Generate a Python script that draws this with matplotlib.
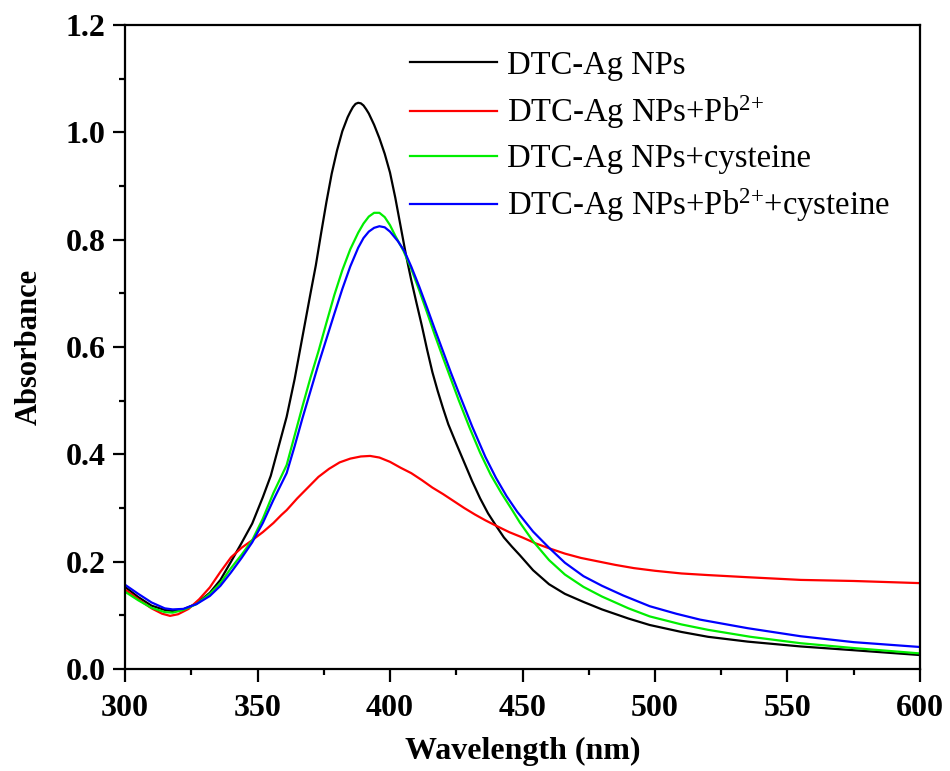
import matplotlib
matplotlib.use("Agg")
import matplotlib.pyplot as plt
from matplotlib.ticker import MultipleLocator

plt.rcParams['font.family'] = ['Liberation Serif', 'DejaVu Serif']
plt.rcParams['mathtext.fontset'] = 'custom'
plt.rcParams['mathtext.rm'] = 'Liberation Serif'
plt.rcParams['mathtext.it'] = 'Liberation Serif:italic'
plt.rcParams['mathtext.bf'] = 'Liberation Serif:bold'

# DTC-Ag NPs (black)
x_black = [300, 305, 310, 315, 318, 322, 327, 332, 336, 340, 344, 348, 352, 355, 358, 361, 364, 367, 370,
           372, 374, 376, 378, 380, 382, 384, 385, 386, 387, 388, 389, 390, 391, 392, 394, 396, 398, 400,
           402, 404, 406, 408, 410, 412, 414, 416, 418, 420, 422, 425, 428, 431, 434, 437, 440, 443, 446,
           449, 454, 460, 466, 473, 480, 490, 498, 510, 520, 535, 555, 575, 600]
y_black = [0.153, 0.134, 0.118, 0.110, 0.108, 0.111, 0.122, 0.142, 0.166, 0.200, 0.235, 0.271, 0.320,
           0.360, 0.415, 0.470, 0.540, 0.620, 0.700, 0.752, 0.812, 0.870, 0.923, 0.966, 1.002, 1.028,
           1.038, 1.047, 1.053, 1.055, 1.054, 1.050, 1.043, 1.035, 1.014, 0.989, 0.960, 0.925, 0.878,
           0.825, 0.772, 0.725, 0.682, 0.640, 0.595, 0.553, 0.518, 0.486, 0.456, 0.420, 0.385, 0.350,
           0.318, 0.290, 0.267, 0.245, 0.228, 0.212, 0.184, 0.158, 0.140, 0.125, 0.111, 0.094, 0.082,
           0.069, 0.060, 0.051, 0.042, 0.035, 0.026]

# DTC-Ag NPs + Pb2+ (red)
x_red = [300, 305, 310, 314, 317, 320, 324, 328, 332, 336, 340, 344, 348, 352, 356, 359, 361, 365, 369,
         373, 377, 381, 385, 389, 392.5, 396, 400, 404, 408, 412, 416, 420, 424, 428, 432, 436, 440, 445,
         450, 455, 460, 466, 472, 478, 485, 492, 500, 510, 520, 535, 555, 575, 600]
y_red = [0.148, 0.130, 0.113, 0.103, 0.099, 0.102, 0.112, 0.130, 0.152, 0.181, 0.208, 0.226, 0.240,
         0.255, 0.272, 0.287, 0.296, 0.318, 0.338, 0.358, 0.373, 0.385, 0.392, 0.396, 0.397, 0.394,
         0.386, 0.375, 0.365, 0.352, 0.338, 0.326, 0.313, 0.300, 0.288, 0.277, 0.267, 0.255, 0.245,
         0.234, 0.225, 0.215, 0.207, 0.201, 0.194, 0.188, 0.183, 0.178, 0.175, 0.171, 0.166, 0.164, 0.160]

# DTC-Ag NPs + cysteine (green)
x_green = [300, 305, 310, 315, 318, 322, 327, 332, 336, 340, 344, 348, 352, 356, 361, 364, 367, 370, 373,
           376, 379, 382, 385, 388, 390, 392, 394, 396, 398, 400, 402, 405, 408, 411, 414, 417, 420, 423,
           426, 430, 434, 438, 442, 446, 449, 454, 460, 466, 473, 480, 490, 498, 510, 520, 536, 555, 575, 600]
y_green = [0.144, 0.128, 0.114, 0.106, 0.105, 0.110, 0.121, 0.140, 0.160, 0.188, 0.213, 0.240, 0.280,
           0.328, 0.380, 0.435, 0.490, 0.543, 0.592, 0.645, 0.697, 0.743, 0.782, 0.813, 0.830, 0.843,
           0.850, 0.850, 0.842, 0.827, 0.807, 0.780, 0.746, 0.706, 0.664, 0.621, 0.580, 0.540, 0.500,
           0.450, 0.403, 0.362, 0.328, 0.297, 0.273, 0.238, 0.203, 0.176, 0.153, 0.135, 0.113, 0.098,
           0.083, 0.073, 0.060, 0.048, 0.039, 0.029]

# DTC-Ag NPs + Pb2+ + cysteine (blue)
x_blue = [300, 305, 310, 315, 318, 322, 327, 332, 336, 340, 344, 348, 352, 356, 361, 364, 367, 370, 373,
          376, 379, 382, 385, 388, 390, 392, 394, 396, 398, 400, 403, 405.4, 408, 411, 414, 417, 420, 423,
          426, 431, 436, 440, 444, 448, 454, 460, 466, 473, 480, 488, 498, 508, 517, 535, 555, 575, 600]
y_blue = [0.157, 0.140, 0.124, 0.113, 0.111, 0.112, 0.121, 0.136, 0.155, 0.180, 0.207, 0.236, 0.272,
          0.315, 0.365, 0.415, 0.468, 0.518, 0.568, 0.615, 0.662, 0.708, 0.750, 0.785, 0.803, 0.815,
          0.822, 0.825, 0.823, 0.815, 0.797, 0.779, 0.750, 0.713, 0.673, 0.632, 0.592, 0.552, 0.514,
          0.452, 0.395, 0.356, 0.322, 0.293, 0.256, 0.226, 0.198, 0.173, 0.155, 0.137, 0.117, 0.103,
          0.092, 0.076, 0.061, 0.050, 0.041]

labels = ['DTC-Ag NPs', 'DTC-Ag NPs+Pb$^{2{+}}$', 'DTC-Ag NPs+cysteine', 'DTC-Ag NPs+Pb$^{2{+}}$+cysteine']
colors = ['#000000', '#ff0000', '#00ee00', '#0000ff']

fig = plt.figure(figsize=(9.5, 7.71), dpi=100)
ax = fig.add_axes([0.1316, 0.1323, 0.8368, 0.8353])

for xs, ys, lab, c in zip([x_black, x_red, x_green, x_blue], [y_black, y_red, y_green, y_blue], labels, colors):
    ax.plot(xs, ys, color=c, lw=1.6, label=lab)

ax.set_xlim(300, 600)
ax.set_ylim(0, 1.2)
ax.xaxis.set_major_locator(MultipleLocator(50))
ax.xaxis.set_minor_locator(MultipleLocator(25))
ax.yaxis.set_major_locator(MultipleLocator(0.2))
ax.yaxis.set_minor_locator(MultipleLocator(0.1))
ax.yaxis.set_major_formatter(matplotlib.ticker.FormatStrFormatter('%.1f'))

for sp in ax.spines.values():
    sp.set_linewidth(1.6)
ax.tick_params(which='major', direction='out', length=9, width=1.6, labelsize=23)
ax.tick_params(axis='x', which='major', pad=9)
ax.tick_params(axis='y', which='major', pad=5)
ax.tick_params(which='minor', direction='out', length=4.5, width=1.6)
ax.tick_params(top=False, right=False, which='both')
for t in ax.get_xticklabels() + ax.get_yticklabels():
    t.set_fontweight('bold')

ax.set_xlabel('Wavelength (nm)', fontsize=23, fontweight='bold', labelpad=10)
ax.set_ylabel('Absorbance', fontsize=22, fontweight='bold', labelpad=16)

leg = ax.legend(loc='upper left', bbox_to_anchor=(0.3585, 0.961), frameon=False, fontsize=23.5,
                handlelength=2.67, handletextpad=0.3, labelspacing=0.39, borderaxespad=0.0,
                borderpad=0.0)

fig.savefig('out.png', dpi=100)
